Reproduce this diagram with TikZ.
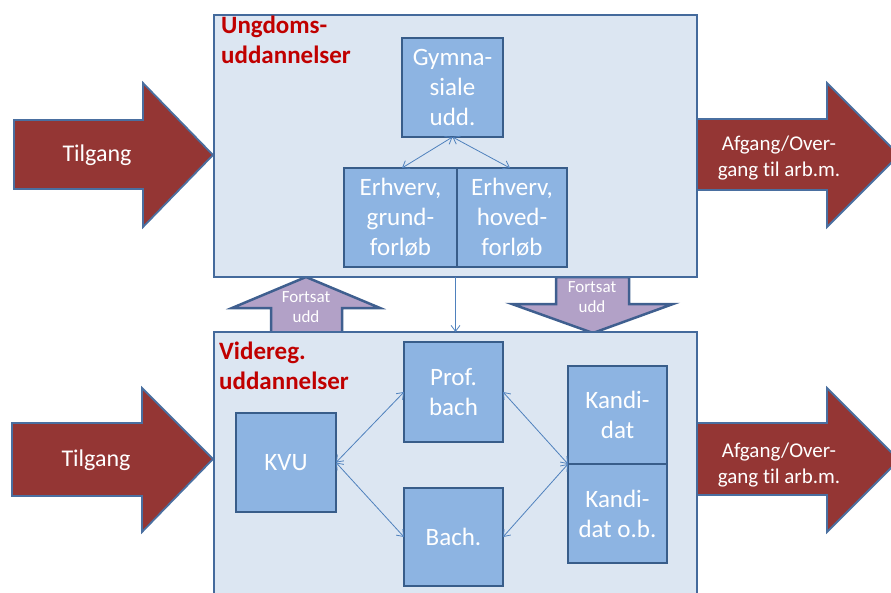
\documentclass[tikz,border=0pt]{standalone}
\usepackage{fontspec}
\setmainfont{Carlito}[Ligatures=NoCommon]
\usetikzlibrary{arrows.meta}
\definecolor{bigfill}{HTML}{DCE6F2}
\definecolor{bigborder}{HTML}{446A9C}
\definecolor{boxfill}{HTML}{8DB4E2}
\definecolor{boxborder}{HTML}{385D8A}
\definecolor{redfill}{HTML}{943634}
\definecolor{redborder}{HTML}{4A6FA0}
\definecolor{purfill}{HTML}{B2A1C7}
\definecolor{purborder}{HTML}{3F5F8F}
\definecolor{titlered}{HTML}{C00000}
\definecolor{connblue}{HTML}{4F81BD}
\tikzset{
  bigbox/.style={draw=bigborder, fill=bigfill, line width=2.5, inner sep=0, outer sep=0},
  smallbox/.style={draw=boxborder, fill=boxfill, line width=2.5, inner sep=0, outer sep=0,
    text=white, align=center, font=\fontsize{25}{30}\selectfont},
  redarrow/.style={draw=redborder, fill=redfill, line width=1.8},
  purarrow/.style={draw=purborder, fill=purfill, line width=2.5},
  redtext/.style={text=white, align=center, font=\fontsize{21}{26.5}\selectfont},
  tiltext/.style={text=white, align=center, font=\fontsize{24}{29}\selectfont},
  purtext/.style={text=white, align=center, font=\fontsize{17}{20}\selectfont},
  titletext/.style={text=titlered, align=left, font=\fontsize{25}{29.5}\selectfont\bfseries, inner sep=0, anchor=north west},
  conn/.style={draw=connblue, line width=0.8, {Straight Barb[length=6pt,width=9pt]}-{Straight Barb[length=6pt,width=9pt]}},
  connone/.style={draw=connblue, line width=0.8, -{Straight Barb[length=6pt,width=9pt]}}
}
\begin{document}
\begin{tikzpicture}[x=1pt,y=-1pt]
\useasboundingbox (0,0) rectangle (891,592);
\clip (0,0) rectangle (891,592);
% red arrows
\draw[redarrow] (14,120) -- (143,120) -- (143,83) -- (213,155) -- (143,227) -- (143,189) -- (14,189) -- cycle;
\draw[redarrow] (12,423) -- (142,423) -- (142,388) -- (213,459) -- (142,532) -- (142,496) -- (12,496) -- cycle;
\draw[redarrow] (696,119) -- (827,119) -- (827,83) -- (899,155) -- (827,227) -- (827,190) -- (696,190) -- cycle;
\draw[redarrow] (696,423) -- (827,423) -- (827,388) -- (899,460) -- (827,532) -- (827,495) -- (696,495) -- cycle;
\node[tiltext] (tilA) at (97,155) {Tilgang};
\node[tiltext] (tilB) at (96,460) {Tilgang};
\node[redtext] (afgA) at (779,158) {Afgang/Over-\\gang til arb.m.};
\node[redtext] (afgB) at (779,465) {Afgang/Over-\\gang til arb.m.};
% purple arrows
\draw[purarrow] (271,333) -- (271,308) -- (232,308) -- (306,277) -- (380,308) -- (342,308) -- (342,333) -- cycle;
\draw[purarrow] (556,277) -- (556,304) -- (512,304) -- (593,333) -- (673,304) -- (629,304) -- (629,277) -- cycle;
\node[purtext] (fortA) at (306,307) {Fortsat\\udd};
\node[purtext] (fortB) at (592,297) {Fortsat\\udd};
% big boxes
\node[bigbox, minimum width=483, minimum height=262] (upper) at (455.5,146) {};
\node[bigbox, minimum width=483, minimum height=288] (lower) at (455.5,476) {};
\node[titletext] (tUp) at (221,16) {Ungdoms-\\uddannelser};
\node[titletext] (tLo) at (219,342) {Videreg.\\uddannelser};
% small boxes
\node[smallbox, minimum width=101, minimum height=99] (gym) at (452.5,87.5) {Gymna-\\siale\\udd.};
\node[smallbox, minimum width=113, minimum height=99] (grund) at (400.5,217.5) {Erhverv,\\grund-\\forløb};
\node[smallbox, minimum width=110, minimum height=99] (hoved) at (512,217.5) {Erhverv,\\hoved-\\forløb};
\node[smallbox, minimum width=99, minimum height=100] (prof) at (453.5,392) {Prof.\\bach};
\node[smallbox, minimum width=100, minimum height=99] (kvu) at (286,462.5) {KVU};
\node[smallbox, minimum width=99, minimum height=98] (bach) at (453.5,537) {Bach.};
\node[smallbox, minimum width=99, minimum height=98] (kand) at (617.5,415) {Kandi-\\dat};
\node[smallbox, minimum width=99, minimum height=99] (kandob) at (617.5,513.5) {Kandi-\\dat o.b.};
% connectors
\draw[conn] (gym.south) -- ([xshift=1.5]grund.north);
\draw[conn] (gym.south) -- ([xshift=-2]hoved.north);
\draw[connone] (upper.south) -- (lower.north);
\draw[conn] (kvu.east) -- (prof.west);
\draw[conn] (kvu.east) -- (bach.west);
\draw[conn] (prof.east) -- (kand.south west);
\draw[conn] (bach.east) -- (kand.south west);
\end{tikzpicture}
\end{document}
